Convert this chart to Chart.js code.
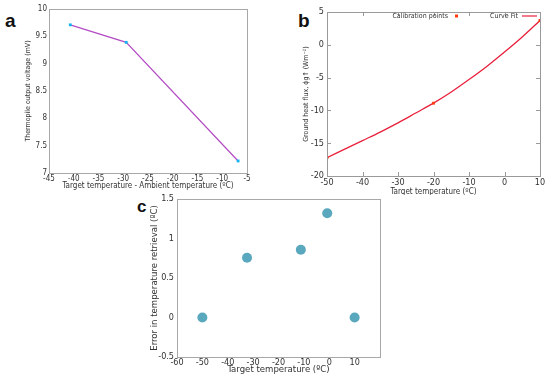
<!DOCTYPE html>
<html>
<head>
<meta charset="utf-8">
<script src="https://cdn.jsdelivr.net/npm/chart.js@4/dist/chart.umd.min.js"></script>
<style>
    body { margin: 0; background: white; width: 550px; height: 380px; position: relative; overflow: hidden; }
    canvas { position: absolute; }
    .letter { position: absolute; font-family: "Liberation Sans", Arial, sans-serif; font-weight: bold; color: #111; }
</style>
</head>
<body>
<div class="letter" style="left: 5px; top: 10px; font-size: 19px">a</div>
<div class="letter" style="left: 298px; top: 10px; font-size: 19px">b</div>
<div class="letter" style="left: 137px; top: 197px; font-size: 17px">c</div>
<canvas id="chartA" width="275" height="195" style="left: 0; top: 0"></canvas>
<canvas id="chartB" width="275" height="195" style="left: 275px; top: 0"></canvas>
<canvas id="chartC" width="290" height="190" style="left: 130px; top: 190px"></canvas>
<script>
// panel a
const aTempDiff = [-40.7, -29.4, -6.8]
const aVoltage = [9.71, 9.39, 7.22]

// panel b
const bCalibTemp = [-50, -20, 10]
const bCalibFlux = [-17.2, -8.9, 3.7]
const bFitTemp = [-50, -45, -40, -35, -30, -25, -20, -15, -10, -5, 0, 5, 10]
const bFitFlux = [-17.2, -15.9, -14.6, -13.3, -11.9, -10.4, -8.9, -7.2, -5.3, -3.3, -1.1, 1.2, 3.7]

// panel c
const cTemp = [-50, -32.4, -11.2, -0.8, 10]
const cError = [0, 0.756, 0.857, 1.32, 0]

const FONT = "'DejaVu Sans Condensed', 'DejaVu Sans', sans-serif"

let toXY = (xs, ys) => xs.map((x, i) => ({ x: x, y: ys[i] }))

// box round the plot area, optional short ticks inside
let frame = {
    id: "frame",
    afterDraw: (chart, args, opts) => {
        let ctx = chart.ctx
        let a = chart.chartArea
        ctx.save()
        ctx.strokeStyle = opts.color || "#a0a0a0"
        ctx.lineWidth = 1
        ctx.strokeRect(Math.round(a.left) + 0.5, Math.round(a.top) + 0.5, Math.round(a.right - a.left), Math.round(a.bottom - a.top))
        if (opts.innerTicks) {
            let len = 4
            ctx.beginPath()
            for (let t of chart.scales.x.ticks) {
                let px = Math.round(chart.scales.x.getPixelForValue(t.value)) + 0.5
                ctx.moveTo(px, a.bottom); ctx.lineTo(px, a.bottom - len)
                ctx.moveTo(px, a.top); ctx.lineTo(px, a.top + len)
            }
            for (let t of chart.scales.y.ticks) {
                let py = Math.round(chart.scales.y.getPixelForValue(t.value)) + 0.5
                ctx.moveTo(a.left, py); ctx.lineTo(a.left + len, py)
                ctx.moveTo(a.right, py); ctx.lineTo(a.right - len, py)
            }
            ctx.stroke()
        }
        ctx.restore()
    }
}

// gnuplot style key inside the top of panel b
let keyB = {
    id: "keyB",
    afterDraw: (chart) => {
        let ctx = chart.ctx
        ctx.save()
        ctx.font = `7px ${FONT}`
        ctx.fillStyle = "#333"
        ctx.textAlign = "right"
        ctx.textBaseline = "middle"
        ctx.fillText("Calibration points", 173, 16)
        ctx.fillText("Curve Fit", 243, 16)
        ctx.fillStyle = "#ff3a10"
        ctx.fillRect(180, 14.5, 3, 3)
        ctx.strokeStyle = "#e8203c"
        ctx.lineWidth = 1.2
        ctx.beginPath(); ctx.moveTo(247, 16); ctx.lineTo(262, 16); ctx.stroke()
        ctx.restore()
    }
}

let fixWidth = (w) => (scale) => { scale.width = w }
let fixHeight = (h) => (scale) => { scale.height = h }
let plain = (v) => String(v)

let axisX = (min, max, step, title, opts) => ({
    type: "linear", min: min, max: max,
    afterFit: fixHeight(opts.height),
    grid: { display: false, drawTicks: false },
    border: { display: false },
    ticks: { stepSize: step, padding: opts.pad, color: "#333", font: { family: FONT, size: opts.tick }, maxRotation: 0, autoSkip: false,
        callback: opts.cb || plain },
    title: { display: true, text: title, color: "#333", font: { family: FONT, size: opts.title }, padding: { top: 0, bottom: opts.tb } }
})

let axisY = (min, max, step, title, opts) => ({
    type: "linear", min: min, max: max,
    afterFit: fixWidth(opts.width),
    grid: { display: false, drawTicks: false },
    border: { display: false },
    ticks: { stepSize: step, padding: opts.pad, color: "#333", font: { family: FONT, size: opts.tick }, callback: plain },
    title: { display: true, text: title, color: "#333", font: { family: FONT, size: opts.title }, padding: { top: 0, bottom: 0 } }
})

let base = {
    responsive: false,
    animation: false,
    plugins: { legend: { display: false }, tooltip: { enabled: false } }
}

window.addEventListener("load", () => {
    new Chart(document.getElementById("chartA"), {
        type: "scatter",
        data: {
            datasets: [{
                data: toXY(aTempDiff, aVoltage),
                showLine: true,
                borderColor: "#b44cc4",
                borderWidth: 1.2,
                pointStyle: "rect",
                pointRadius: 2,
                pointBackgroundColor: "#12b4f0",
                pointBorderWidth: 0
            }]
        },
        options: {
            ...base,
            layout: { padding: { left: 24, top: 9, right: 28, bottom: 0 } },
            scales: {
                x: axisX(-45, -5, 5, "Target temperature - Ambient temperature (ºC)", { height: 22, pad: 1, tick: 8, title: 8, tb: 4 }),
                y: axisY(7, 10, 0.5, "Thermopile output voltage (mV)", { width: 25, pad: 2, tick: 8, title: 7 })
            },
            plugins: { ...base.plugins, frame: { color: "#a8a8a8" } }
        },
        plugins: [frame]
    })

    new Chart(document.getElementById("chartB"), {
        type: "scatter",
        data: {
            datasets: [
                {
                    data: toXY(bCalibTemp, bCalibFlux),
                    pointStyle: "rect",
                    pointRadius: 2,
                    pointBackgroundColor: "#ff3a10",
                    pointBorderWidth: 0,
                    order: 0
                },
                {
                    data: toXY(bFitTemp, bFitFlux),
                    showLine: true,
                    cubicInterpolationMode: "monotone",
                    borderColor: "#e8203c",
                    borderWidth: 1.3,
                    pointRadius: 0,
                    order: 1
                }
            ]
        },
        options: {
            ...base,
            layout: { padding: { left: 27, top: 12, right: 10, bottom: 0 } },
            scales: {
                x: axisX(-50, 10, 10, "Target temperature (ºC)", { height: 19, pad: 1, tick: 9, title: 8, tb: -2 }),
                y: axisY(-20, 5, 5, "Ground heat flux, ϕg↑ (Wm⁻²)", { width: 25, pad: 3, tick: 9, title: 7 })
            },
            plugins: { ...base.plugins, frame: { color: "#9a9a9a", innerTicks: true } }
        },
        plugins: [frame, keyB]
    })

    new Chart(document.getElementById("chartC"), {
        type: "scatter",
        data: {
            datasets: [{
                data: toXY(cTemp, cError),
                pointRadius: 5,
                pointBackgroundColor: "#5aa8bd",
                pointBorderWidth: 0
            }]
        },
        options: {
            ...base,
            layout: { padding: { left: 19, top: 9, right: 40, bottom: 0 } },
            scales: {
                x: axisX(-60, 20, 10, "Target temperature (ºC)", { height: 23, pad: 0, tick: 9, title: 9.5, tb: 5,
                    cb: (v) => v === 20 ? "" : String(v) }),
                y: axisY(-0.5, 1.5, 0.5, "Error in temperature retrieval (ºC)", { width: 28, pad: 3, tick: 9, title: 9.5 })
            },
            plugins: { ...base.plugins, frame: { color: "#a8a8a8" } }
        },
        plugins: [frame]
    })
})
</script>
</body>
</html>
